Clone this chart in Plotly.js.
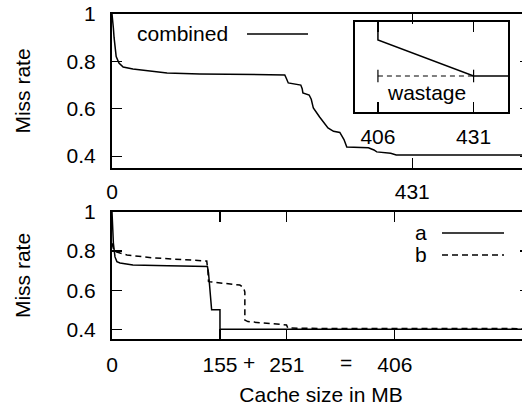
<!DOCTYPE html>
<html>
<head>
<meta charset="utf-8">
<script src="https://cdn.plot.ly/plotly-3.0.1.min.js"></script>
<style>
html,body{margin:0;padding:0;overflow:hidden;background:#fff;}
#chart{width:540px;height:406px;}
</style>
</head>
<body>
<div id="chart"></div>
<script>
// ---- data ----
var combinedX = [0, 1, 2, 3, 4.3, 6, 10, 16, 30, 79, 126, 213, 248, 250, 253, 271, 273, 274, 283, 286, 289, 298, 310, 318, 327, 333, 337, 368, 376, 380, 400, 408, 600];
var combinedY = [1.0, 0.98, 0.94, 0.9, 0.85, 0.82, 0.793, 0.776, 0.768, 0.751, 0.747, 0.743, 0.743, 0.73, 0.709, 0.70, 0.685, 0.667, 0.658, 0.64, 0.603, 0.565, 0.519, 0.505, 0.50, 0.47, 0.439, 0.435, 0.426, 0.418, 0.412, 0.405, 0.405];

var aX = [0, 0.7, 2, 4.3, 7, 11.5, 30, 80, 126, 137, 138.5, 143, 155, 155, 600];
var aY = [1.0, 0.92, 0.84, 0.77, 0.746, 0.739, 0.729, 0.725, 0.724, 0.721, 0.69, 0.50, 0.50, 0.40, 0.40];

var bX = [0, 1, 3, 11.5, 21.5, 60, 126, 136, 137.6, 138.5, 140.5, 183.5, 189, 190.7, 190.7, 195, 250.5, 252.3, 300, 600];
var bY = [0.84, 0.82, 0.80, 0.79, 0.78, 0.765, 0.751, 0.749, 0.70, 0.645, 0.643, 0.626, 0.612, 0.59, 0.447, 0.439, 0.422, 0.406, 0.404, 0.403];

// inset (schematic zoom around 406..431)
var insetSolidX = [406, 406, 431, 440];
var insetSolidY = [1.05, 0.8, 0.4, 0.4];
var wastageX = [406, 431];
var wastageY = [0.4, 0.4];
var wastageEndX = [406, 406, null, 431, 431];
var wastageEndY = [0.33, 0.47, null, 0.33, 0.47];

var yTickVals = [0.4, 0.6, 0.8, 1];
var yTickText = ['0.4', '0.6', '0.8', '1'];
var topXTicks = [0, 431];
var bottomXTicks = [0, 155, 251, 406];
var insetXTicks = [406, 431];

// ---- chart ----
var FONT = 'Liberation Sans, Arial, Helvetica, sans-serif';
var FS = 21;
var line = {color: '#000', width: 1.5};

var traces = [
  {x: combinedX, y: combinedY, xaxis: 'x', yaxis: 'y', mode: 'lines', line: line, name: 'combined'},
  {x: aX, y: aY, xaxis: 'x2', yaxis: 'y2', mode: 'lines', line: line, name: 'a'},
  {x: bX, y: bY, xaxis: 'x2', yaxis: 'y2', mode: 'lines', line: {color: '#000', width: 1.5, dash: '6px,4px'}, name: 'b'},
  {x: insetSolidX, y: insetSolidY, xaxis: 'x3', yaxis: 'y3', mode: 'lines', line: line},
  {x: wastageX, y: wastageY, xaxis: 'x3', yaxis: 'y3', mode: 'lines', line: {color: '#000', width: 1.2, dash: '5px,4px'}},
  {x: wastageEndX, y: wastageEndY, xaxis: 'x3', yaxis: 'y3', mode: 'lines', line: {color: '#000', width: 1.2}}
];

function axisBase() {
  return {
    showline: true, linecolor: '#000', linewidth: 2, mirror: 'ticks',
    ticks: 'inside', ticklen: 10, tickwidth: 1.2, tickcolor: '#000',
    showgrid: false, zeroline: false, fixedrange: true,
    tickfont: {family: FONT, size: FS, color: '#000'}
  };
}

var xa = axisBase();
Object.assign(xa, {domain: [0, 1], range: [0, 600], tickmode: 'array', tickvals: topXTicks, ticktext: topXTicks.map(String), anchor: 'y', ticklabelstandoff: 4});
var ya = axisBase();
Object.assign(ya, {domain: [0.5262, 1], range: [0.35, 1], tickmode: 'array', tickvals: yTickVals, ticktext: yTickText, anchor: 'x', ticklabelstandoff: 10,
  title: {text: 'Miss rate', font: {family: FONT, size: FS, color: '#000'}, standoff: 30}});
var xa2 = axisBase();
Object.assign(xa2, {domain: [0, 1], range: [0, 600], tickmode: 'array', tickvals: bottomXTicks, ticktext: bottomXTicks.map(String), anchor: 'y2', ticklabelstandoff: 6,
  title: {text: 'Cache size in MB', font: {family: FONT, size: FS, color: '#000'}, standoff: 18}});
var ya2 = axisBase();
Object.assign(ya2, {domain: [0, 0.3908], range: [0.35, 1], tickmode: 'array', tickvals: yTickVals, ticktext: yTickText, anchor: 'x2', ticklabelstandoff: 10,
  title: {text: 'Miss rate', font: {family: FONT, size: FS, color: '#000'}, standoff: 30}});
var xa3 = axisBase();
Object.assign(xa3, {domain: [0.5813, 0.9474], range: [400, 440], tickmode: 'array', tickvals: insetXTicks, ticktext: insetXTicks.map(String), anchor: 'y3', ticklabelstandoff: 5});
var ya3 = axisBase();
Object.assign(ya3, {domain: [0.6985, 0.9754], range: [0, 1], tickvals: [], showticklabels: false, anchor: 'x3', ticks: ''});

var annFont = {family: FONT, size: FS, color: '#000'};
var layout = {
  width: 540, height: 406,
  margin: {l: 112, r: 10, t: 14, b: 67, pad: 0},
  paper_bgcolor: '#fff', plot_bgcolor: 'rgba(0,0,0,0)',
  showlegend: false,
  font: annFont,
  xaxis: xa, yaxis: ya, xaxis2: xa2, yaxis2: ya2, xaxis3: xa3, yaxis3: ya3,
  shapes: [
    {type: 'rect', xref: 'x3 domain', yref: 'y3 domain', x0: 0, x1: 1, y0: 0, y1: 1, fillcolor: '#fff', line: {width: 0}, layer: 'below'},
    {type: 'line', xref: 'paper', yref: 'paper', x0: 0.323, x1: 0.469, y0: 0.9385, y1: 0.9385, line: {color: '#000', width: 1.5}},
    {type: 'line', xref: 'paper', yref: 'paper', x0: 0.7895, x1: 0.9378, y0: 0.3262, y1: 0.3262, line: {color: '#000', width: 1.5}},
    {type: 'line', xref: 'paper', yref: 'paper', x0: 0.7895, x1: 0.9378, y0: 0.2585, y1: 0.2585, line: {color: '#000', width: 1.5, dash: '6px,4px'}}
  ],
  annotations: [
    {text: 'combined', xref: 'paper', yref: 'paper', x: 0.2823, y: 0.9385, xanchor: 'right', yanchor: 'middle', showarrow: false, font: annFont},
    {text: 'a', xref: 'paper', yref: 'paper', x: 0.7584, y: 0.3262, xanchor: 'right', yanchor: 'middle', showarrow: false, font: annFont},
    {text: 'b', xref: 'paper', yref: 'paper', x: 0.7584, y: 0.2585, xanchor: 'right', yanchor: 'middle', showarrow: false, font: annFont},
    {text: 'wastage', xref: 'x3', yref: 'y3', x: 418.7, y: 0.22, xanchor: 'center', yanchor: 'middle', showarrow: false, font: annFont},
    {text: '+', xref: 'paper', yref: 'paper', x: 0.3278, y: -0.0738, xanchor: 'center', yanchor: 'middle', showarrow: false, font: annFont},
    {text: '=', xref: 'paper', yref: 'paper', x: 0.5598, y: -0.0738, xanchor: 'center', yanchor: 'middle', showarrow: false, font: annFont}
  ]
};

Plotly.newPlot('chart', traces, layout, {displayModeBar: false, staticPlot: true});
</script>
</body>
</html>
